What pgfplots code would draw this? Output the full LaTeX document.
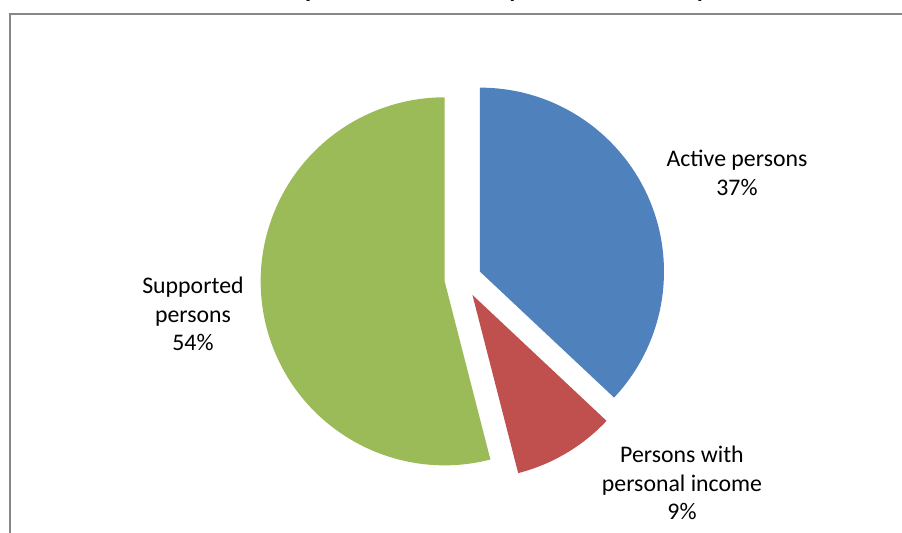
\documentclass[border=0pt]{standalone}
\usepackage{pgfplots}
\pgfplotsset{compat=1.18}
\usepackage{pgfplotstable}
\usepackage{fontspec}
\setmainfont{Carlito}
\definecolor{cblue}{HTML}{4F81BD}
\definecolor{cred}{HTML}{C0504D}
\definecolor{cgreen}{HTML}{9BBB59}
\definecolor{cborder}{HTML}{878787}

\pgfplotstableread[col sep=comma]{
label,share
Active persons,37
Persons with personal income,9
Supported persons,54
}\piedata

\begin{document}
\begin{tikzpicture}
\useasboundingbox (0,0) rectangle (451pt,266.5pt);
\clip (0,0) rectangle (451pt,266.5pt);
\pgfplotstablegetelem{0}{share}\of\piedata \let\sA\pgfplotsretval
\pgfplotstablegetelem{1}{share}\of\piedata \let\sB\pgfplotsretval
\pgfplotstablegetelem{2}{share}\of\piedata \let\sC\pgfplotsretval
\pgfmathsetmacro\tot{\sA+\sB+\sC}
\pgfmathsetmacro\aA{90}
\pgfmathsetmacro\aB{\aA-360*(\sA/\tot)}
\pgfmathsetmacro\aC{\aB-360*(\sB/\tot)}
\pgfmathsetmacro\aD{\aC-360*(\sC/\tot)}
\def\cx{463}\def\cy{254}\def\ex{18.5}
\pgfmathsetmacro\vAx{\cx+\ex*cos((\aA+\aB)/2)}
\pgfmathsetmacro\vAy{\cy+\ex*sin((\aA+\aB)/2)}
\pgfmathsetmacro\vBx{\cx+\ex*cos((\aB+\aC)/2)}
\pgfmathsetmacro\vBy{\cy+\ex*sin((\aB+\aC)/2)}
\pgfmathsetmacro\vCx{\cx+\ex*cos((\aC+\aD)/2)}
\pgfmathsetmacro\vCy{\cy+\ex*sin((\aC+\aD)/2)}
\begin{axis}[at={(0,0)}, anchor=south west, scale only axis,
  x=0.5pt, y=0.5pt, xmin=0, xmax=902, ymin=0, ymax=533,
  hide axis, clip=false]
\draw[cborder, line width=1pt] (axis cs:10,-20) -- (axis cs:10,519) -- (axis cs:920,519);
\fill[cblue] (axis cs:\vAx,\vAy) -- ++(\aA:92pt) arc[start angle=\aA, end angle=\aB, radius=92pt] -- cycle;
\fill[cred] (axis cs:\vBx,\vBy) -- ++(\aB:92pt) arc[start angle=\aB, end angle=\aC, radius=92pt] -- cycle;
\fill[cgreen] (axis cs:\vCx,\vCy) -- ++(\aC:92pt) arc[start angle=\aC, end angle=\aD, radius=92pt] -- cycle;
\node[align=center, font=\fontsize{11.9}{14.4}\selectfont] at (axis cs:737,360) {Active persons\\37\%};
\node[align=center, font=\fontsize{11.9}{14.4}\selectfont] at (axis cs:193,219) {Supported\\persons\\54\%};
\node[align=center, font=\fontsize{11.9}{14.4}\selectfont] at (axis cs:682,50) {Persons with\\personal income\\9\%};
\node[anchor=base, font=\fontsize{12.5}{15}\selectfont\bfseries] at (axis cs:465,535) {Total Population of Serbia by economic activity};
\end{axis}
\end{tikzpicture}
\end{document}
